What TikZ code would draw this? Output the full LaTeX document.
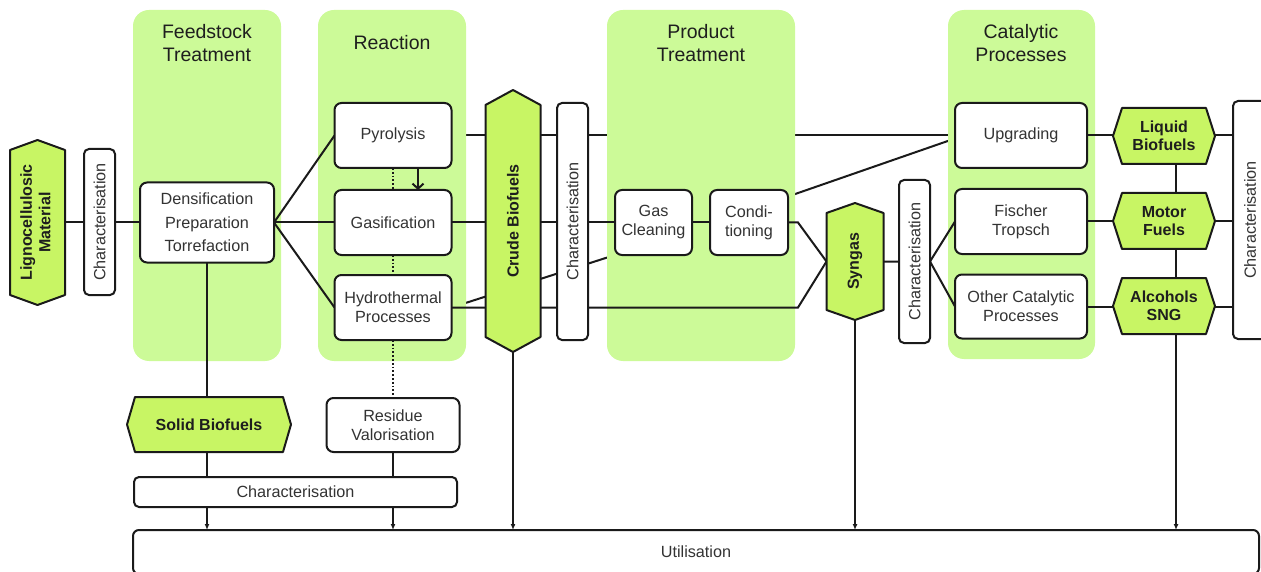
\documentclass[tikz,border=0pt]{standalone}
\usepackage{fontspec}
\setmainfont{Liberation Sans}
\usepackage{graphicx}
\usetikzlibrary{arrows.meta,calc}
\definecolor{bgg}{HTML}{CCFA98}
\definecolor{hexg}{HTML}{C8F564}
\definecolor{lc}{HTML}{1A1A1A}
\definecolor{tc}{HTML}{333333}
\definecolor{tb}{HTML}{1E1E1E}
\pgfdeclarelayer{back}
\pgfdeclarelayer{panels}
\pgfdeclarelayer{mid}
\pgfsetlayers{back,panels,mid,main}
\newcommand\fsn{\fontsize{16.2}{19}\selectfont}
\newcommand\fsb{\fontsize{16}{18.5}\selectfont\bfseries}
\newcommand\fst{\fontsize{19.5}{23}\selectfont}
\newcommand\hexV[2]{\filldraw[hexfill] (#1.north) -- ([yshift=-#2]#1.north east) -- ([yshift=#2]#1.south east) -- (#1.south) -- ([yshift=#2]#1.south west) -- ([yshift=-#2]#1.north west) -- cycle;}
\newcommand\hexH[2]{\filldraw[hexfill] (#1.west) -- ([xshift=#2]#1.north west) -- ([xshift=-#2]#1.north east) -- (#1.east) -- ([xshift=-#2]#1.south east) -- ([xshift=#2]#1.south west) -- cycle;}
\tikzset{
  box/.style={draw=lc, line width=2pt, rounded corners=7pt, fill=white, align=center, text=tc, font=\fsn, inner sep=0pt, outer sep=0pt},
  hexn/.style={inner sep=0pt, outer sep=0pt, align=center, font=\fsb, text=tb},
  hexfill/.style={fill=hexg, draw=lc, line width=2pt, line join=round},
  conn/.style={draw=lc, line width=2pt},
  arr/.style={draw=lc, line width=2pt, -{Latex[length=6pt,width=5pt]}},
  barb/.style={conn, -{Straight Barb[length=5pt,width=11pt,line width=2pt]}},
  dots/.style={draw=lc, line width=1.8pt, dash pattern=on 1.8pt off 2pt},
  panel/.style={fill=bgg, rounded corners=16pt},
  title/.style={align=center, text=tb, font=\fst, inner sep=0pt},
}
\begin{document}
\begin{tikzpicture}[x=1pt,y=-1pt]
\useasboundingbox (0,0) rectangle (1261,572);

% panels
\begin{pgfonlayer}{panels}
\fill[panel] (133,10) rectangle (281,361);
\fill[panel] (318,10) rectangle (466,361);
\fill[panel] (607,10) rectangle (795,361);
\fill[panel] (948,10) rectangle (1095,359);
\end{pgfonlayer}

% titles
\node[title] (t1) at (207,43.5) {Feedstock\\Treatment};
\node[title] (t2) at (392,43) {Reaction};
\node[title] (t3) at (701,43.5) {Product\\Treatment};
\node[title] (t4) at (1021,43.5) {Catalytic\\Processes};

% hexagon nodes (text)
\node[hexn, minimum width=55pt, minimum height=165pt] (lig) at (37.5,222.5) {\rotatebox{90}{\begin{tabular}{@{}c@{}}Lignocellulosic\\Material\end{tabular}}};
\node[hexn, minimum width=55pt, minimum height=262pt] (crude) at (513,221) {\rotatebox{90}{Crude Biofuels}};
\node[hexn, minimum width=57pt, minimum height=117pt] (syn) at (855,261.5) {\rotatebox{90}{Syngas}};
\node[hexn, minimum width=102pt, minimum height=56pt] (liq) at (1164,136) {Liquid\\Biofuels};
\node[hexn, minimum width=102pt, minimum height=56pt] (mot) at (1164,221) {Motor\\Fuels};
\node[hexn, minimum width=102pt, minimum height=56pt] (alc) at (1164,306) {Alcohols\\SNG};
\node[hexn, minimum width=164pt, minimum height=55pt] (solid) at (209,424.5) {Solid Biofuels};

% boxes
\node[box, minimum width=31pt, minimum height=146pt, rounded corners=5pt] (c1) at (99.5,222) {\rotatebox{90}{Characterisation}};
\node[box, minimum width=134pt, minimum height=80pt, font=\fontsize{16.2}{23.5}\selectfont] (dens) at (207,222.5) {Densification\\Preparation\\Torrefaction};
\node[box, minimum width=117pt, minimum height=65pt] (pyro) at (393,135.5) {Pyrolysis};
\node[box, minimum width=117pt, minimum height=65pt] (gasi) at (393,222.5) {Gasification};
\node[box, minimum width=117pt, minimum height=65pt] (hydro) at (393,307.5) {Hydrothermal\\Processes};
\node[box, minimum width=31pt, minimum height=237pt, rounded corners=5pt] (c2) at (572.5,221.5) {\rotatebox{90}{Characterisation}};
\node[box, minimum width=77pt, minimum height=65pt] (gc) at (653.5,222.5) {Gas\\Cleaning};
\node[box, minimum width=78pt, minimum height=65pt] (cond) at (749,222.5) {Condi-\\tioning};
\node[box, minimum width=31pt, minimum height=163pt, rounded corners=5pt] (c3) at (914.5,261.5) {\rotatebox{90}{Characterisation}};
\node[box, minimum width=132pt, minimum height=65pt] (upg) at (1021,135.5) {Upgrading};
\node[box, minimum width=132pt, minimum height=65pt] (ftr) at (1021,221.5) {Fischer\\Tropsch};
\node[box, minimum width=132pt, minimum height=64pt] (oth) at (1021,306.5) {Other Catalytic\\Processes};
\node[box, minimum width=34pt, minimum height=238pt, rounded corners=5pt] (c4) at (1250,220) {\rotatebox{90}{Characterisation}};
\node[box, minimum width=133pt, minimum height=54pt] (resid) at (393,425) {Residue\\Valorisation};
\node[box, minimum width=323pt, minimum height=30pt, rounded corners=5pt] (c5) at (295.5,492) {Characterisation};
\node[box, minimum width=1126pt, minimum height=44pt, rounded corners=6pt] (util) at (696,552) {Utilisation};

\coordinate (u3) at (1176,530);

% lines hidden under the panels
\begin{pgfonlayer}{back}
\draw[conn] (pyro.east) -- (upg.west);
\draw[conn] (hydro.east) -- (gc.south west);
\draw[conn] ([yshift=26pt]cond.east) -- ([yshift=-3pt]upg.west);
\end{pgfonlayer}

% lines over panels, then hexagons
\begin{pgfonlayer}{mid}
\draw[conn] (lig.east) -- (dens.west);
\draw[conn] (dens.east) -- (pyro.west);
\draw[conn] (dens.east) -- (gasi.west);
\draw[conn] (dens.east) -- (hydro.west);
\draw[conn] (gasi.east) -- (cond.west);
\draw[conn] (cond.east) -- ([xshift=10pt]cond.east) -- (syn.west);
\draw[conn] (hydro.east) -- ([xshift=10pt]cond.east |- hydro.east) -- (syn.west);
\draw[conn] (syn.east) -- (c3.east) -- (ftr.west);
\draw[conn] (c3.east) -- (oth.west);
\draw[conn] (upg.east) -- (upg.east -| c4.west);
\draw[conn] (ftr.east) -- (ftr.east -| c4.west);
\draw[conn] (oth.east) -- (oth.east -| c4.west);
\draw[arr] (liq.south -| u3) -- (u3);
\draw[arr] (crude.south) -- (crude.south |- util.north);
\draw[arr] (syn.south) -- (syn.south |- util.north);
\draw[conn] (dens.south) -- (dens.south |- c5.north);
\draw[arr] (dens.south |- c5.south) -- (dens.south |- util.north);
\draw[dots] (pyro.south) -- (gasi.north);
\draw[dots] (gasi.south) -- (hydro.north);
\draw[dots] (hydro.south) -- (resid.north);
\draw[conn] (resid.south) -- (resid.south |- c5.north);
\draw[arr] (resid.south |- c5.south) -- (resid.south |- util.north);
\draw[barb] ([xshift=25pt]pyro.south) -- ([xshift=25pt]gasi.north);
\hexV{lig}{10pt}
\hexV{crude}{15pt}
\hexV{syn}{10pt}
\hexH{liq}{9pt}
\hexH{mot}{9pt}
\hexH{alc}{9pt}
\hexH{solid}{8pt}
\end{pgfonlayer}
\end{tikzpicture}
\end{document}
